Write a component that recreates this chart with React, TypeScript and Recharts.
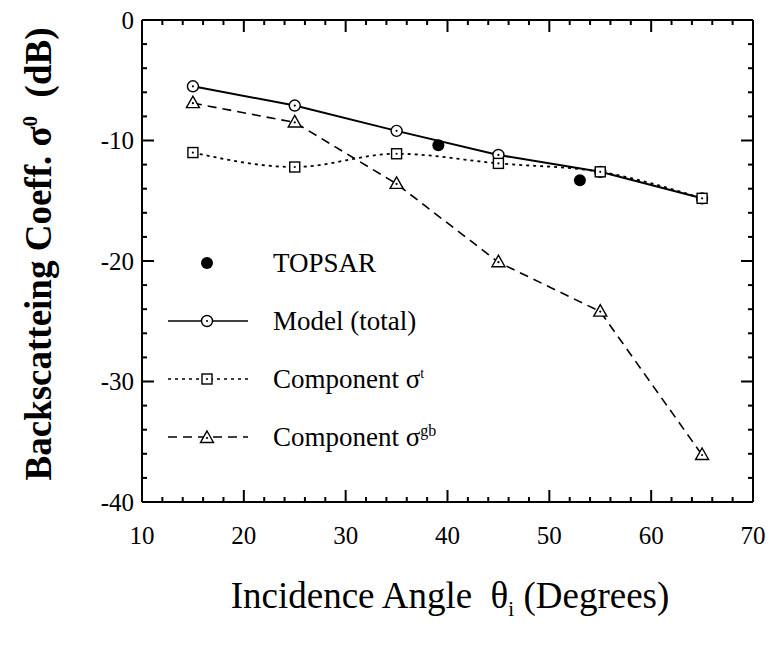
import React from "react";
import { ComposedChart, Line, Scatter, XAxis, YAxis } from "recharts";

// incidence angles (degrees) of the model runs
const angles = [15, 25, 35, 45, 55, 65];
// backscatter in dB
const modelTotal = [-5.5, -7.1, -9.2, -11.2, -12.6, -14.8];
const componentT = [-11.0, -12.2, -11.1, -11.9, -12.6, -14.8];
const componentGB = [-6.9, -8.5, -13.6, -20.1, -24.2, -36.1];
// TOPSAR measurements
const topsarAngles = [39.1, 53.0];
const topsarValues = [-10.4, -13.3];

const xMajor = [10, 20, 30, 40, 50, 60, 70];
const yMajor = [0, -10, -20, -30, -40];
const xMinor = xMajor.slice(0, -1).flatMap((v) => [v + 2, v + 4, v + 6, v + 8]);
const yMinor = yMajor.slice(0, -1).flatMap((v) => [v - 2, v - 4, v - 6, v - 8]);

const toRows = (xs: number[], ys: number[]) => xs.map((x, i) => ({ x, y: ys[i] }));
const totalData = toRows(angles, modelTotal);
const tData = toRows(angles, componentT);
const gbData = toRows(angles, componentGB);
const topsarData = toRows(topsarAngles, topsarValues);

// tick-mark anchor points along the four frame edges
const xTickVals = [...xMajor, ...xMinor];
const yTickVals = [...yMajor, ...yMinor];
const bottomTicks = xTickVals.map((x) => ({ x, y: -40, major: x % 10 === 0 }));
const topTicks = xTickVals.map((x) => ({ x, y: 0, major: x % 10 === 0 }));
const leftTicks = yTickVals.map((y) => ({ x: 10, y, major: y % 10 === 0 }));
const rightTicks = yTickVals.map((y) => ({ x: 70, y, major: y % 10 === 0 }));

const FONT = "'Liberation Serif', 'Times New Roman', serif";
const INK = { stroke: "#000", strokeWidth: 2 };
const tickFont = { fontFamily: FONT, fontSize: 25, fill: "#000" };

const CircleMark = ({ cx, cy }: any) => (
  <g>
    <circle cx={cx} cy={cy} r={5.5} fill="#fff" stroke="#000" strokeWidth={1.4} />
    <circle cx={cx} cy={cy} r={1.1} fill="#000" />
  </g>
);

const SquareMark = ({ cx, cy }: any) => (
  <g>
    <rect x={cx - 5} y={cy - 5} width={10} height={10} fill="#fff" stroke="#000" strokeWidth={1.4} />
    <circle cx={cx} cy={cy} r={1.1} fill="#000" />
  </g>
);

const TriangleMark = ({ cx, cy }: any) => (
  <g>
    <path d={`M${cx},${cy - 7} L${cx + 6.5},${cy + 4.5} L${cx - 6.5},${cy + 4.5} Z`} fill="#fff" stroke="#000" strokeWidth={1.4} />
    <circle cx={cx} cy={cy} r={1.1} fill="#000" />
  </g>
);

const DotMark = ({ cx, cy }: any) => <circle cx={cx} cy={cy} r={6} fill="#000" />;

// inward tick marks drawn as scatter shapes: (dx, dy) is the direction into the plot
const tickShape = (dx: number, dy: number) => (props: any) => {
  const { cx, cy, payload } = props;
  const len = payload && payload.major ? 12 : 5;
  return (
    <path
      d={`M${cx},${cy} L${cx + dx * len},${cy + dy * len}`}
      stroke="#000"
      strokeWidth={2}
      fill="none"
    />
  );
};

const legendRows = [
  { key: "topsar", label: <>TOPSAR</>, dash: "none", mark: "dot" },
  { key: "total", label: <>Model (total)</>, dash: "0", mark: "circle" },
  { key: "t", label: <>Component σ<sup style={{ fontSize: 14 }}>t</sup></>, dash: "3 4", mark: "square" },
  { key: "gb", label: <>Component σ<sup style={{ fontSize: 16 }}>gb</sup></>, dash: "9 6", mark: "triangle" },
];

const ChartLegend = () => (
  <div style={{ position: "absolute", left: 168, top: 234, fontFamily: FONT, fontSize: 27, color: "#000" }}>
    {legendRows.map((row) => (
      <div key={row.key} style={{ display: "flex", alignItems: "center", height: 58 }}>
        <svg width={80} height={20} style={{ marginRight: 25 }}>
          {row.dash !== "none" && (
            <line x1={0} x2={80} y1={10} y2={10} stroke="#000" strokeWidth={1.6} strokeDasharray={row.dash} />
          )}
          {row.mark === "dot" && <DotMark cx={39} cy={10} />}
          {row.mark === "circle" && <CircleMark cx={39} cy={10} />}
          {row.mark === "square" && <SquareMark cx={39} cy={10} />}
          {row.mark === "triangle" && <TriangleMark cx={39} cy={11} />}
        </svg>
        <span>{row.label}</span>
      </div>
    ))}
  </div>
);

export default function App() {
  return (
    <div style={{ position: "relative", width: 774, height: 648, background: "#fff" }}>
      <style>{`body{margin:0;background:#fff}`}</style>
      <ComposedChart
        width={774}
        height={648}
        margin={{ top: 20, right: 21, bottom: 86, left: 82 }}
      >
        <XAxis
          xAxisId="b"
          dataKey="x"
          type="number"
          domain={[10, 70]}
          ticks={xMajor}
          interval={0}
          height={60}
          tickSize={0}
          tickMargin={24}
          tickLine={false}
          tick={tickFont}
          axisLine={INK}
        />
        <YAxis
          yAxisId="l"
          type="number"
          domain={[-40, 0]}
          ticks={yMajor}
          interval={0}
          width={60}
          tickSize={0}
          tickMargin={8}
          tickLine={false}
          tick={tickFont}
          axisLine={INK}
        />
        {/* top and right frame edges */}
        <XAxis
          xAxisId="t"
          orientation="top"
          mirror
          type="number"
          dataKey="x"
          domain={[10, 70]}
          ticks={xMajor}
          height={1}
          tick={false}
          tickLine={false}
          axisLine={INK}
        />
        <YAxis
          yAxisId="r"
          orientation="right"
          mirror
          type="number"
          domain={[-40, 0]}
          ticks={yMajor}
          width={1}
          tick={false}
          tickLine={false}
          axisLine={INK}
        />
        <Scatter xAxisId="b" yAxisId="l" data={bottomTicks} dataKey="y" shape={tickShape(0, -1)} isAnimationActive={false} />
        <Scatter xAxisId="b" yAxisId="l" data={topTicks} dataKey="y" shape={tickShape(0, 1)} isAnimationActive={false} />
        <Scatter xAxisId="b" yAxisId="l" data={leftTicks} dataKey="y" shape={tickShape(1, 0)} isAnimationActive={false} />
        <Scatter xAxisId="b" yAxisId="l" data={rightTicks} dataKey="y" shape={tickShape(-1, 0)} isAnimationActive={false} />
        <Line
          xAxisId="b"
          yAxisId="l"
          data={gbData}
          dataKey="y"
          type="linear"
          stroke="#000"
          strokeWidth={1.6}
          strokeDasharray="9 6"
          dot={<TriangleMark />}
          isAnimationActive={false}
        />
        <Line
          xAxisId="b"
          yAxisId="l"
          data={totalData}
          dataKey="y"
          type="linear"
          stroke="#000"
          strokeWidth={2}
          dot={<CircleMark />}
          isAnimationActive={false}
        />
        <Line
          xAxisId="b"
          yAxisId="l"
          data={tData}
          dataKey="y"
          type="monotone"
          stroke="#000"
          strokeWidth={1.8}
          strokeDasharray="3 4"
          dot={<SquareMark />}
          isAnimationActive={false}
        />
        <Scatter
          xAxisId="b"
          yAxisId="l"
          data={topsarData}
          dataKey="y"
          shape={<DotMark />}
          isAnimationActive={false}
        />
      </ComposedChart>
      <ChartLegend />
      <div
        style={{
          position: "absolute",
          left: 38,
          top: 254,
          transform: "translate(-50%, -50%) rotate(-90deg)",
          whiteSpace: "nowrap",
          fontFamily: FONT,
          fontSize: 37,
          fontWeight: "bold",
        }}
      >
        Backscatteing Coeff. σ<sup style={{ fontSize: 21 }}>0</sup>&nbsp; (dB)
      </div>
      <div
        style={{
          position: "absolute",
          left: 450,
          top: 598,
          transform: "translate(-50%, -50%)",
          whiteSpace: "nowrap",
          fontFamily: FONT,
          fontSize: 37,
        }}
      >
        Incidence Angle&nbsp; θ<sub style={{ fontSize: 21 }}>i</sub> (Degrees)
      </div>
    </div>
  );
}
